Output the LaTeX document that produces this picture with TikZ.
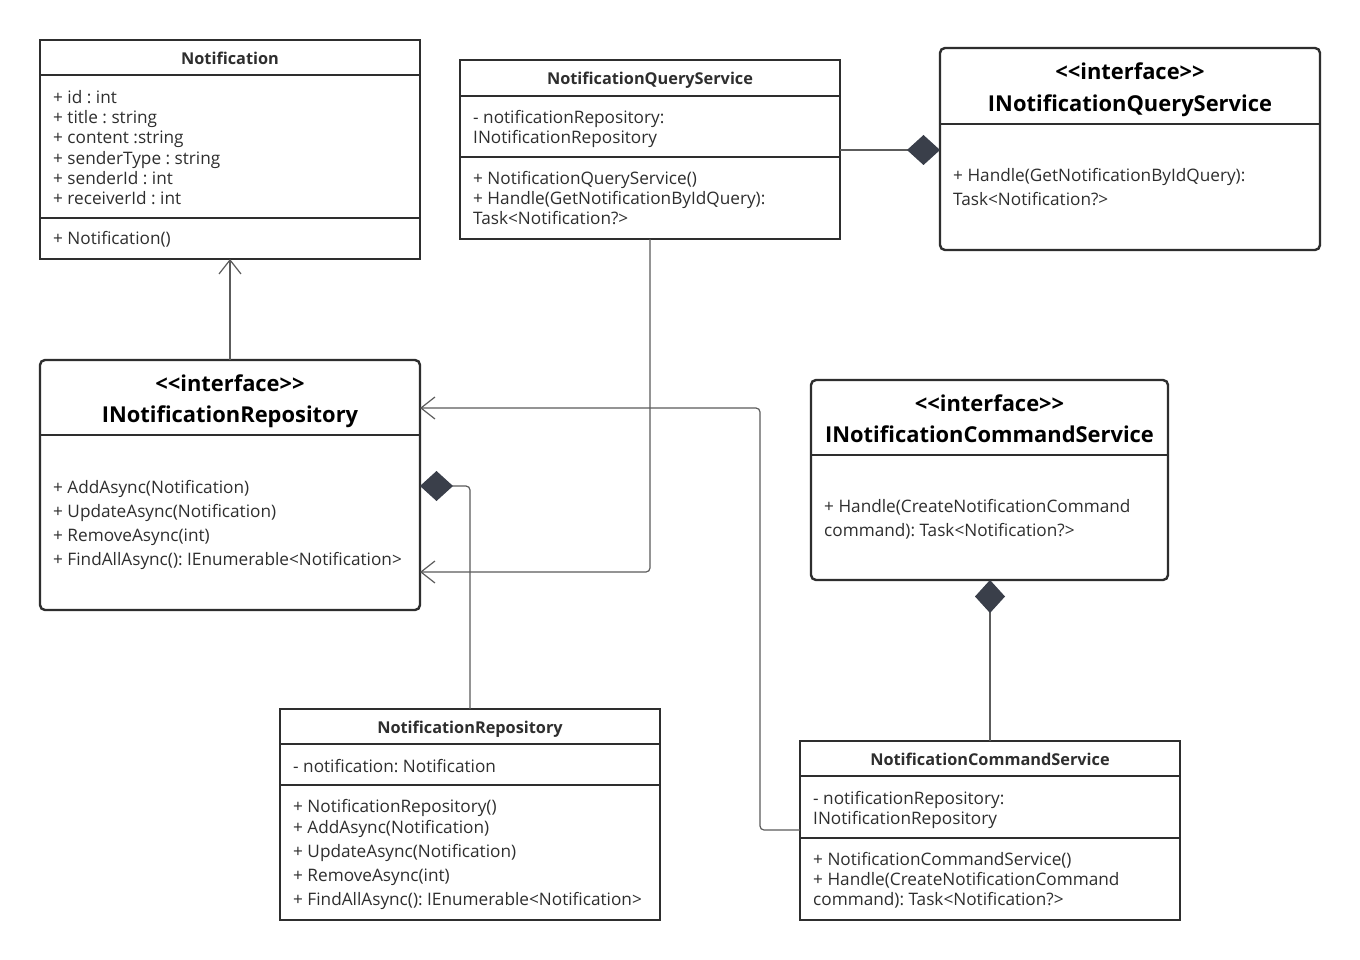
\documentclass[tikz,border=0pt]{standalone}
\usepackage{fontspec}
\setmainfont{Open Sans}
\usetikzlibrary{arrows.meta}
\definecolor{ink}{HTML}{2E2E2E}
\definecolor{wire}{HTML}{5C5C5C}
\definecolor{diam}{HTML}{3A3F4A}
\tikzset{
 cls/.style={draw=ink, line width=1.8pt, anchor=north west, inner sep=0pt, outer sep=0pt},
 ifc/.style={cls, line width=2.4pt, rounded corners=5pt},
 sepline/.style={draw=ink, line width=1.8pt},
 isepline/.style={draw=ink, line width=2.2pt},
 body/.style={anchor=base west, inner sep=0pt, yshift=-0.8pt, font=\fontsize{17.2}{20}\selectfont, text=ink},
 ctitle/.style={anchor=base, inner sep=0pt, yshift=-1.2pt, font=\fontsize{16.3}{19}\selectfont\bfseries, text=ink},
 ititle/.style={anchor=base, inner sep=0pt, yshift=-1.2pt, font=\fontsize{21.9}{25}\selectfont\bfseries, text=black},
 conn/.style={draw=wire, line width=1.2pt, rounded corners=4pt},
 barb/.style={-{Straight Barb[length=14pt,width=22pt,line width=1.2pt]}},
 comp/.style={-{Diamond[length=33pt,width=30pt,fill=diam,color=diam]}},
}
\frenchspacing
\begin{document}
\begin{tikzpicture}[x=1pt,y=-1pt]
\useasboundingbox[fill=white] (0,0) rectangle (1360,960);

% Notification
\node[cls, minimum width=380pt, minimum height=219pt] (notif) at (40,40) {};
\draw[sepline] (40,75) -- (420,75) (40,218) -- (420,218);
\node[ctitle] (notifT) at (230,63.5) {Notification};
\node[body] (n1) at (53,102.5) {+ id : int};
\node[body] (n2) at (53,122.5) {+ title : string};
\node[body] (n3) at (53,142.5) {+ content :string};
\node[body] (n4) at (53,163.5) {+ senderType : string};
\node[body] (n5) at (53,183.5) {+ senderId : int};
\node[body] (n6) at (53,203.5) {+ receiverId : int};
\node[body] (n7) at (53,243.5) {+ Notification()};

% NotificationQueryService
\node[cls, minimum width=380pt, minimum height=179pt] (nqs) at (460,60) {};
\draw[sepline] (460,96) -- (840,96) (460,157) -- (840,157);
\node[ctitle] (nqsT) at (650,83.5) {NotificationQueryService};
\node[body] (q1) at (473,122.5) {- notificationRepository:};
\node[body] (q2) at (473,142.5) {INotificationRepository};
\node[body] (q3) at (473,183.5) {+ NotificationQueryService()};
\node[body] (q4) at (473,203.5) {+ Handle(GetNotificationByIdQuery):};
\node[body] (q5) at (473,223.5) {Task<Notification?>};

% INotificationQueryService
\node[ifc, minimum width=380pt, minimum height=202pt] (inqs) at (940,48) {};
\draw[isepline] (940,124) -- (1320,124);
\node[ititle] (inqsS) at (1130,78.5) {<{}<interface>{}>};
\node[ititle] (inqsT) at (1130,110.5) {INotificationQueryService};
\node[body] (iq1) at (953,180.5) {+ Handle(GetNotificationByIdQuery):};
\node[body] (iq2) at (953,204.5) {Task<Notification?>};

% INotificationRepository
\node[ifc, minimum width=380pt, minimum height=250pt] (inr) at (40,360) {};
\draw[isepline] (40,435) -- (420,435);
\node[ititle] (inrS) at (230,390.5) {<{}<interface>{}>};
\node[ititle] (inrT) at (230,421.5) {INotificationRepository};
\node[body] (r1) at (53,492.5) {+ AddAsync(Notification)};
\node[body] (r2) at (53,516.5) {+ UpdateAsync(Notification)};
\node[body] (r3) at (53,540.5) {+ RemoveAsync(int)};
\node[body] (r4) at (53,564.5) {+ FindAllAsync(): IEnumerable<Notification>};

% INotificationCommandService
\node[ifc, minimum width=357pt, minimum height=200pt] (incs) at (811,380) {};
\draw[isepline] (811,455) -- (1168,455);
\node[ititle] (incsS) at (989.5,410.5) {<{}<interface>{}>};
\node[ititle] (incsT) at (989.5,441.5) {INotificationCommandService};
\node[body] (ic1) at (824,511.5) {+ Handle(CreateNotificationCommand};
\node[body] (ic2) at (824,535.5) {command): Task<Notification?>};

% NotificationRepository
\node[cls, minimum width=380pt, minimum height=211pt] (nr) at (280,709) {};
\draw[sepline] (280,744) -- (660,744) (280,785) -- (660,785);
\node[ctitle] (nrT) at (470,732.5) {NotificationRepository};
\node[body] (p1) at (293,771.5) {- notification: Notification};
\node[body] (p2) at (293,811.5) {+ NotificationRepository()};
\node[body] (p3) at (293,832.5) {+ AddAsync(Notification)};
\node[body] (p4) at (293,856.5) {+ UpdateAsync(Notification)};
\node[body] (p5) at (293,880.5) {+ RemoveAsync(int)};
\node[body] (p6) at (293,904.5) {+ FindAllAsync(): IEnumerable<Notification>};

% NotificationCommandService
\node[cls, minimum width=380pt, minimum height=179pt] (ncs) at (800,741) {};
\draw[sepline] (800,776) -- (1180,776) (800,838) -- (1180,838);
\node[ctitle] (ncsT) at (990,764.5) {NotificationCommandService};
\node[body] (c1) at (813,803.5) {- notificationRepository:};
\node[body] (c2) at (813,823.5) {INotificationRepository};
\node[body] (c3) at (813,864.5) {+ NotificationCommandService()};
\node[body] (c4) at (813,884.5) {+ Handle(CreateNotificationCommand};
\node[body] (c5) at (813,904.5) {command): Task<Notification?>};

% connector coordinates
\coordinate (nqsE) at (840,150);
\coordinate (inqsW) at (940,150);
\coordinate (nqsS) at (650,239);
\coordinate (inrQ) at (420,572);
\coordinate (ncsW) at (800,830);
\coordinate (inrC) at (420,408);
\coordinate (inrR) at (420,486);

% connectors
\draw[conn, barb] (inr.north) -- (notif.south);
\draw[conn, comp] (nqsE) -- (inqsW);
\draw[conn, barb] (nqsS) -- (650,572) -- (inrQ);
\draw[conn, barb] (ncsW) -- (760,830) -- (760,408) -- (inrC);
\draw[conn, comp] (nr.north) -- (470,486) -- (inrR);
\draw[conn, comp] (ncs.north) -- (incs.south -| ncs.north);
\end{tikzpicture}
\end{document}
